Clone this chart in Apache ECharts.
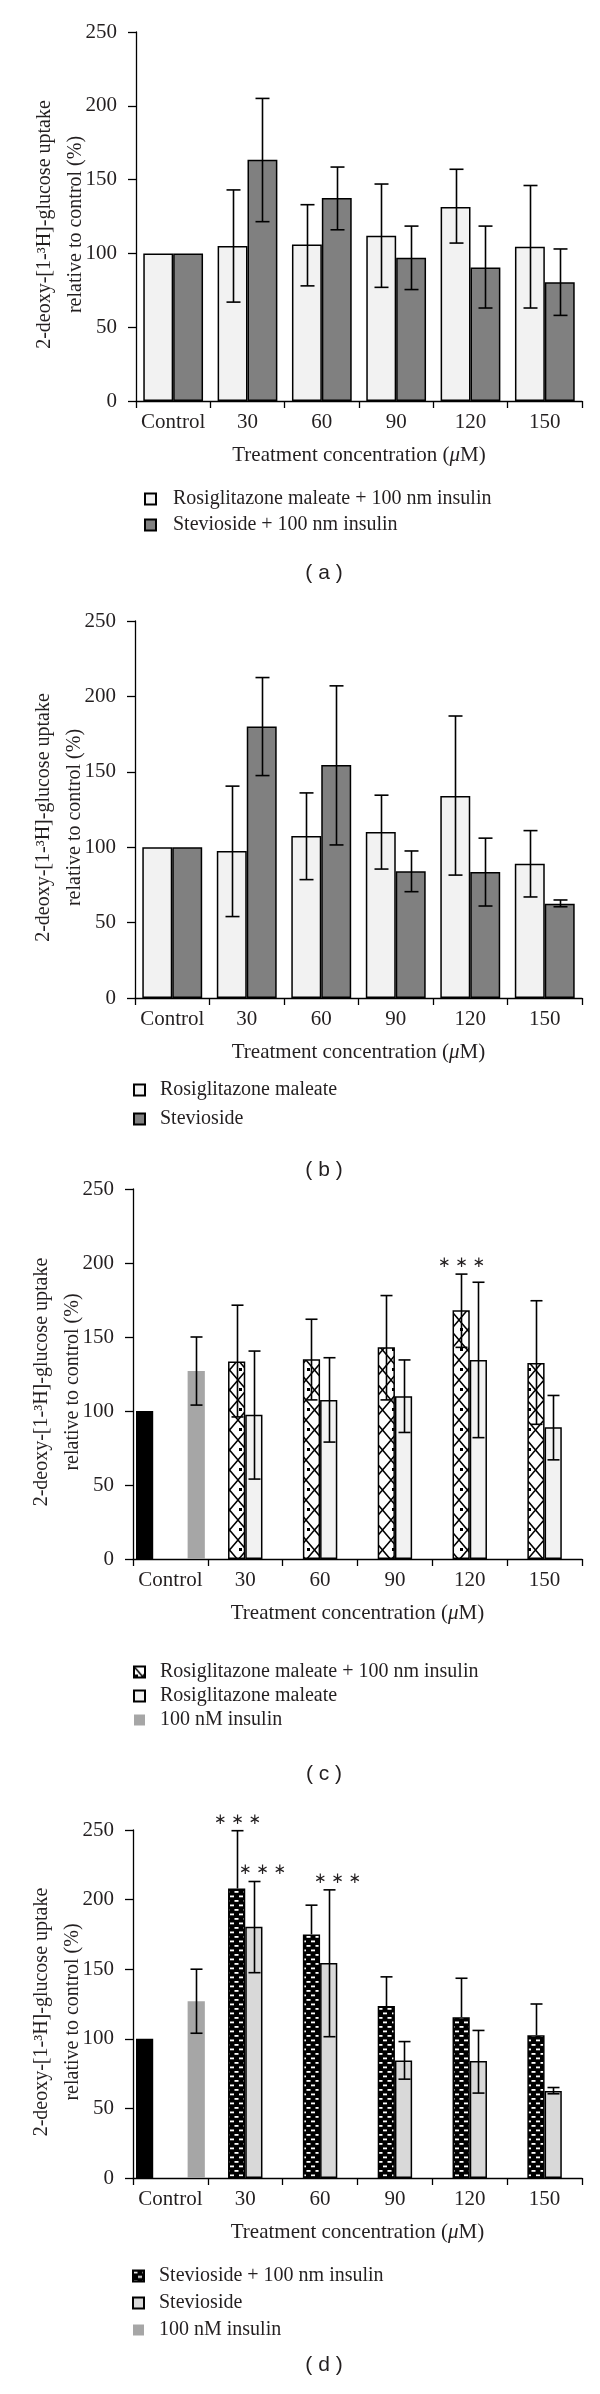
<!DOCTYPE html>
<html><head><meta charset="utf-8">
<script src="https://cdn.jsdelivr.net/npm/echarts@6/dist/echarts.min.js"></script>
<style>html,body{margin:0;padding:0;background:#fff}#c{width:600px;height:2394px}</style>
</head><body><div id="c"></div>
<script>
// ---------- DATA ----------
const categories = ['Control', '30', '60', '90', '120', '150'];
const yTicks = [0, 50, 100, 150, 200, 250];

// Panel (a)
const aRosiIns      = [100, 105, 106, 112, 131.5, 104.5];
const aRosiInsLow   = [null, 67, 78, 77, 107, 63];
const aRosiInsHigh  = [null, 143, 133, 147, 157, 146];
const aStevIns      = [100, 163.5, 137.5, 97, 90.5, 80.5];
const aStevInsLow   = [null, 121.5, 116, 75.5, 63, 58];
const aStevInsHigh  = [null, 205, 158.5, 118.5, 118.5, 103];

// Panel (b)
const bRosi      = [100, 97.5, 107.5, 110, 134, 89];
const bRosiLow   = [null, 54, 78.5, 85.5, 81.5, 67];
const bRosiHigh  = [null, 140.5, 136, 134.5, 187, 111];
const bStev      = [100, 180, 154.5, 84, 83.5, 62.5];
const bStevLow   = [null, 147.5, 101.5, 70.5, 61, 60.5];
const bStevHigh  = [null, 212.5, 207, 97.5, 106, 65];

// Panel (c)
const cControl     = [100, null, null, null, null, null];
const cInsulin     = [127, null, null, null, null, null];
const cInsulinLow  = [104, null, null, null, null, null];
const cInsulinHigh = [150, null, null, null, null, null];
const cRosiIns     = [null, 133.5, 135, 143, 168, 132.5];
const cRosiInsLow  = [null, 96, 107.5, 107.5, 143, 91];
const cRosiInsHigh = [null, 171.5, 162, 178, 192.5, 174.5];
const cRosiInsSig  = ['', '', '', '', '***', ''];
const cRosi        = [null, 97.5, 107.5, 110, 134.5, 89];
const cRosiLow     = [null, 54, 79, 85.5, 82, 67];
const cRosiHigh    = [null, 140.5, 136, 134.5, 187, 110.5];

// Panel (d)
const dControl     = [100, null, null, null, null, null];
const dInsulin     = [127, null, null, null, null, null];
const dInsulinLow  = [104, null, null, null, null, null];
const dInsulinHigh = [150, null, null, null, null, null];
const dStevIns     = [null, 208, 175, 123.5, 115.5, 102.5];
const dStevInsLow  = [null, null, null, null, null, null];
const dStevInsHigh = [null, 249.5, 196, 144.5, 143.5, 125];
const dStevInsSig  = ['', '***', '', '', '', ''];
const dStev        = [null, 180.5, 154.5, 84.5, 84, 62.5];
const dStevLow     = [null, 147.5, 101.5, 71, 61, 60.5];
const dStevHigh    = [null, 213, 207, 98, 106, 65];
const dStevSig     = ['', '***', '***', '', '', ''];

// ---------- STYLE ----------
const SERIF = '"Liberation Serif", "Times New Roman", serif';
const TXT = '#231f20';
const FS = 21;

function patternZigzag() {
  const w = 17, h = 20;
  const cv = document.createElement('canvas'); cv.width = w; cv.height = h;
  const g = cv.getContext('2d');
  g.fillStyle = '#fff'; g.fillRect(0, 0, w, h);
  g.strokeStyle = '#000'; g.lineWidth = 1.5;
  g.beginPath(); g.moveTo(0, 0); g.lineTo(w, h); g.moveTo(w, 0); g.lineTo(0, h); g.stroke();
  g.fillStyle = '#000'; g.fillRect(1, 8, 3, 3);
  return { image: cv, repeat: 'repeat' };
}
function patternDashes() {
  const w = 9, h = 9;
  const cv = document.createElement('canvas'); cv.width = w; cv.height = h;
  const g = cv.getContext('2d');
  g.fillStyle = '#000'; g.fillRect(0, 0, w, h);
  g.fillStyle = '#fff';
  g.fillRect(0.5, 1, 4, 1.8);
  g.fillRect(5, 5.5, 4, 1.8);
  return { image: cv, repeat: 'repeat' };
}

const panels = [
  { top: 32,   bottom: 401,  left: 136, legendTop: 489,  legendLeft: 144, legendGap: 6, textPad: 12, caption: '( a )', capY: 573 },
  { top: 621,  bottom: 998,  left: 135, legendTop: 1080, legendLeft: 133, legendGap: 9, textPad: 10, caption: '( b )', capY: 1170 },
  { top: 1189, bottom: 1559, left: 133, legendTop: 1662, legendLeft: 133, legendGap: 4, textPad: 10, caption: '( c )', capY: 1774 },
  { top: 1830, bottom: 2178, left: 133, legendTop: 2266, legendLeft: 132, legendGap: 7, textPad: 10, caption: '( d )', capY: 2365 }
];

const grids = [], xAxes = [], yAxes = [], legends = [], graphics = [];
panels.forEach((p, i) => {
  grids.push({ left: p.left, right: 18, top: p.top, height: p.bottom - p.top });
  xAxes.push({
    type: 'category', gridIndex: i, data: categories,
    axisLine: { lineStyle: { color: '#000', width: 1.3 } },
    axisTick: { show: true, length: 7, lineStyle: { color: '#000', width: 1.3 } },
    axisLabel: { interval: 0, color: TXT, fontFamily: SERIF, fontSize: FS, margin: 11 },
    name: 'Treatment concentration ({i|μ}M)', nameLocation: 'middle', nameGap: 44,
    nameMoveOverlap: false,
    nameTextStyle: { color: TXT, fontFamily: SERIF, fontSize: FS,
      rich: { i: { fontStyle: 'italic', fontFamily: SERIF, fontSize: FS, color: TXT } } }
  });
  yAxes.push({
    type: 'value', gridIndex: i, min: yTicks[0], max: yTicks[yTicks.length - 1], interval: yTicks[1] - yTicks[0],
    splitLine: { show: false },
    axisLine: { show: true, lineStyle: { color: '#000', width: 1.3 } },
    axisTick: { show: true, length: 8, lineStyle: { color: '#000', width: 1.3 } },
    axisLabel: { color: TXT, fontFamily: SERIF, fontSize: FS, margin: 19 },
    name: '2-deoxy-[1-\u00b3H]-glucose uptake\nrelative to control (%)',
    nameLocation: 'middle', nameGap: 45, nameRotate: 90, nameMoveOverlap: false,
    nameTextStyle: { color: TXT, fontFamily: SERIF, fontSize: 20, lineHeight: 31, padding: [0, 16, 0, 0] }
  });
  graphics.push({ type: 'text', x: 324, y: p.capY,
    style: { text: p.caption, font: '21px "Liberation Sans", Arial, sans-serif', fill: '#231f20', textAlign: 'center', textVerticalAlign: 'middle' } });
});

function legend(i, names) {
  const p = panels[i];
  return {
    orient: 'vertical', left: p.legendLeft, top: p.legendTop, padding: 0,
    itemWidth: 11, itemHeight: 11, itemGap: p.legendGap, icon: 'rect', selectedMode: false,
    data: names,
    formatter: n => n.slice(2),
    textStyle: { color: TXT, fontFamily: SERIF, fontSize: 20, lineHeight: 20, padding: [0, 0, 0, p.textPad] }
  };
}

function bar(gi, name, data, color, border, gap) {
  return {
    type: 'bar', name, xAxisIndex: gi, yAxisIndex: gi, data,
    barGap: '0%', barCategoryGap: gap,
    itemStyle: border ? { color, borderColor: '#000', borderWidth: 1.5 } : { color },
    emphasis: { disabled: true }, z: 2
  };
}

function errBars(gi, values, lows, highs, slot, nSlots, gapFrac, capW, sig, starDx) {
  const data = [];
  values.forEach((v, k) => {
    if (v == null || highs[k] == null) return;
    data.push([k, lows[k] == null ? NaN : lows[k], highs[k], v, sig && sig[k] ? 1 : 0]);
  });
  return {
    type: 'custom', xAxisIndex: gi, yAxisIndex: gi, silent: true, z: 5, data,
    encode: { x: 0, y: [1, 2] },
    renderItem(params, api) {
      const k = api.value(0);
      const base = api.coord([k, api.value(3)]);
      const band = api.size([1, 0])[0];
      const used = band * (1 - gapFrac);
      const bw = used / nSlots;
      const x = Math.round(base[0] - used / 2 + bw * (slot + 0.5)) + 0.5;
      const hi = api.coord([k, api.value(2)])[1];
      const lv = api.value(1);
      const hasLow = !isNaN(lv);
      const lo = hasLow ? api.coord([k, lv])[1] : base[1];
      const ls = { stroke: '#000', lineWidth: 1.6 };
      const ch = [
        { type: 'line', shape: { x1: x, y1: hi, x2: x, y2: lo }, style: ls },
        { type: 'line', shape: { x1: x - capW / 2, y1: hi, x2: x + capW / 2, y2: hi }, style: ls }
      ];
      if (hasLow) ch.push({ type: 'line', shape: { x1: x - capW / 2, y1: lo, x2: x + capW / 2, y2: lo }, style: ls });
      if (api.value(4)) {
        ch.push({ type: 'text', x: x + (starDx || 0), y: hi - 11,
          style: { text: '\u2217 \u2217 \u2217', font: '15px "DejaVu Sans", sans-serif', fill: '#231f20', textAlign: 'center', textVerticalAlign: 'middle' } });
      }
      return { type: 'group', children: ch };
    }
  };
}

const ZIG = patternZigzag();
const DASH = patternDashes();
const G1 = '19.6%', G2 = '8%';
const g1 = 0.196, g2 = 0.08;

const series = [
  // (a)
  bar(0, 'a|Rosiglitazone maleate + 100 nm insulin', aRosiIns, '#f2f2f2', true, G1),
  bar(0, 'a|Stevioside + 100 nm insulin', aStevIns, '#808080', true, G1),
  errBars(0, aRosiIns, aRosiInsLow, aRosiInsHigh, 0, 2, g1, 14),
  errBars(0, aStevIns, aStevInsLow, aStevInsHigh, 1, 2, g1, 14),
  // (b)
  bar(1, 'b|Rosiglitazone maleate', bRosi, '#f2f2f2', true, G1),
  bar(1, 'b|Stevioside', bStev, '#808080', true, G1),
  errBars(1, bRosi, bRosiLow, bRosiHigh, 0, 2, g1, 14),
  errBars(1, bStev, bStevLow, bStevHigh, 1, 2, g1, 14),
  // (c)
  bar(2, 'c|Control', cControl, '#000000', false, G2),
  bar(2, 'c|Rosiglitazone maleate + 100 nm insulin', cRosiIns, ZIG, true, G2),
  bar(2, 'c|Rosiglitazone maleate', cRosi, '#f2f2f2', true, G2),
  bar(2, 'c|100 nM insulin', cInsulin, '#a6a6a6', false, G2),
  errBars(2, cInsulin, cInsulinLow, cInsulinHigh, 3, 4, g2, 12),
  errBars(2, cRosiIns, cRosiInsLow, cRosiInsHigh, 1, 4, g2, 12, cRosiInsSig),
  errBars(2, cRosi, cRosiLow, cRosiHigh, 2, 4, g2, 12),
  // (d)
  bar(3, 'd|Control', dControl, '#000000', false, G2),
  bar(3, 'd|Stevioside + 100 nm insulin', dStevIns, DASH, true, G2),
  bar(3, 'd|Stevioside', dStev, '#d9d9d9', true, G2),
  bar(3, 'd|100 nM insulin', dInsulin, '#a6a6a6', false, G2),
  errBars(3, dInsulin, dInsulinLow, dInsulinHigh, 3, 4, g2, 12),
  errBars(3, dStevIns, dStevInsLow, dStevInsHigh, 1, 4, g2, 12, dStevInsSig),
  errBars(3, dStev, dStevLow, dStevHigh, 2, 4, g2, 12, dStevSig, 8)
];

legends.push(legend(0, ['a|Rosiglitazone maleate + 100 nm insulin', 'a|Stevioside + 100 nm insulin']));
legends.push(legend(1, ['b|Rosiglitazone maleate', 'b|Stevioside']));
legends.push(legend(2, ['c|Rosiglitazone maleate + 100 nm insulin', 'c|Rosiglitazone maleate', 'c|100 nM insulin']));
legends.push(legend(3, ['d|Stevioside + 100 nm insulin', 'd|Stevioside', 'd|100 nM insulin']));

const chart = echarts.init(document.getElementById('c'), null, { renderer: 'canvas' });
chart.setOption({
  backgroundColor: '#fff',
  animation: false,
  grid: grids, xAxis: xAxes, yAxis: yAxes, legend: legends,
  graphic: graphics, series
});
</script>
</body></html>
